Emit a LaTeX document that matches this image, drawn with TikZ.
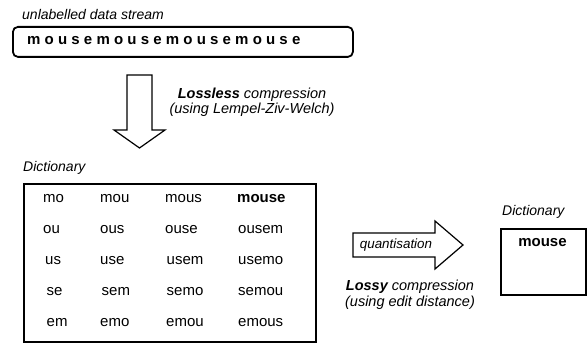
\documentclass[tikz,border=0pt]{standalone}
\usepackage{fontspec}
\setmainfont{Liberation Sans}
\usepackage{tikz}
\usetikzlibrary{positioning}

\begin{document}
\begin{tikzpicture}[x=1pt, y=-1pt,
  caption/.style={font=\fontsize{14}{16}\selectfont\itshape, inner sep=0pt, anchor=west},
  note/.style={font=\fontsize{14.5}{15.5}\selectfont\itshape, align=center, inner sep=0pt},
  entry/.style={font=\fontsize{15}{17}\selectfont, anchor=base west, inner sep=0pt},
  frame/.style={draw, line width=1.8pt, anchor=north west},
  blockarrow/.style={draw, line width=1.2pt, fill=white, line join=miter}
]
\useasboundingbox (0,0) rectangle (587,344);
% data stream
\node[caption] (streamlbl) at (22,15) {unlabelled data stream};
\node[frame, rounded corners=5pt, minimum width=340pt, minimum height=30pt] (stream) at (12,26) {};
\node[anchor=west, inner sep=0pt, font=\fontsize{15}{17}\selectfont\bfseries\addfontfeatures{LetterSpace=28}] (streamtxt) at (27,40.5) {mousemousemousemouse};
% lossless step
\draw[blockarrow] (127,75) -- (152,75) -- (152,130) -- (165,130) -- (139.5,148) -- (114,130) -- (127,130) -- cycle;
\node[note] (lossless) at (252,102.5) {\textbf{Lossless} compression\\(using Lempel-Ziv-Welch)};
% full dictionary
\node[caption] (dictlbl) at (23,168) {Dictionary};
\node[frame, minimum width=292pt, minimum height=158pt] (dict) at (23,183) {};
\node[entry] (mo) at (43,203) {mo};
\node[entry] (mou) at (100,203) {mou};
\node[entry] (mous) at (165,203) {mous};
\node[entry, font=\fontsize{15}{17}\selectfont\bfseries] (mouse) at (237,203) {mouse};
\node[entry] (ou) at (43,234) {ou};
\node[entry] (ous) at (100,234) {ous};
\node[entry] (ouse) at (165,234) {ouse};
\node[entry] (ousem) at (238,234) {ousem};
\node[entry] (us) at (45,265) {us};
\node[entry] (use) at (100,265) {use};
\node[entry] (usem) at (166.5,265) {usem};
\node[entry] (usemo) at (238,265) {usemo};
\node[entry] (se) at (46.5,296) {se};
\node[entry] (sem) at (101.5,296) {sem};
\node[entry] (semo) at (166.5,296) {semo};
\node[entry] (semou) at (238,296) {semou};
\node[entry] (em) at (46.5,327) {em};
\node[entry] (emo) at (100,327) {emo};
\node[entry] (emou) at (166,327) {emou};
\node[entry] (emous) at (238,327) {emous};
% lossy step
\draw[blockarrow] (353,233) -- (435,233) -- (435,221) -- (463,245) -- (435,269) -- (435,257) -- (353,257) -- cycle;
\node[font=\fontsize{13.4}{15}\selectfont\itshape, inner sep=0pt] (quant) at (396,245.5) {quantisation};
\node[note] (lossy) at (410,295) {\textbf{Lossy} compression\\(using edit distance)};
% reduced dictionary
\node[caption] (smalllbl) at (502,212) {Dictionary};
\node[frame, minimum width=85pt, minimum height=66pt] (small) at (500,228) {};
\node[font=\fontsize{15}{17}\selectfont\bfseries, anchor=base, inner sep=0pt] (mouseq) at (542.5,247) {mouse};
\end{tikzpicture}
\end{document}
